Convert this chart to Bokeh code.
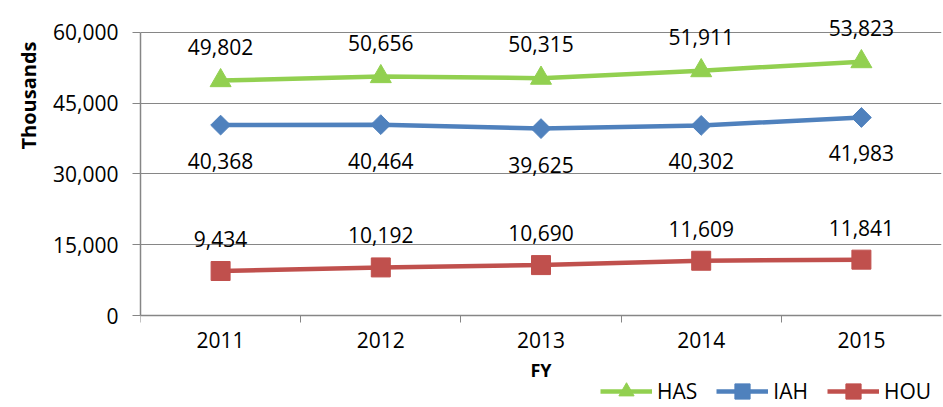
import math
from bokeh.plotting import figure
from bokeh.models import (Range1d, FixedTicker, ColumnDataSource, LabelSet, Legend,
                          LegendItem, Title, NumeralTickFormatter)
from bokeh.core.properties import value
from bokeh.embed import file_html
from bokeh.resources import INLINE

# ---- data ----
years = ["2011", "2012", "2013", "2014", "2015"]
has = [49802, 50656, 50315, 51911, 53823]
iah = [40368, 40464, 39625, 40302, 41983]
hou = [9434, 10192, 10690, 11609, 11841]
y_ticks = [0, 15000, 30000, 45000, 60000]

FONT = "Open Sans"
GREEN = "#92D050"
BLUE = "#4F81BD"
RED = "#C0504D"
GRAY = "#868686"

xs = list(range(len(years)))

# frame fills the canvas vertically; 0..60000 maps to y=315..32 px
p = figure(width=943, height=407, output_backend="svg", toolbar_location=None,
           x_range=Range1d(-0.5, 4.5), y_range=Range1d(-19505, 66784),
           min_border_left=140, min_border_right=2, min_border_top=0,
           min_border_bottom=0)
p.outline_line_color = None
p.background_fill_color = "white"
p.border_fill_color = "white"

# grid
p.xgrid.grid_line_color = None
p.ygrid.grid_line_color = GRAY
p.ygrid.grid_line_width = 1

# y axis
yax = p.yaxis[0]
yax.ticker = FixedTicker(ticks=y_ticks, minor_ticks=[])
yax.bounds = (0, 60000)
yax.formatter = NumeralTickFormatter(format="0,0")
yax.axis_line_color = GRAY
yax.axis_line_width = 1.5
yax.major_tick_line_color = GRAY
yax.major_tick_out = 8
yax.major_tick_in = 0
yax.minor_tick_line_color = None
yax.major_label_standoff = 14
yax.major_label_text_font = FONT
yax.major_label_text_font_size = "21px"
yax.major_label_text_color = "black"
yax.axis_label = None

# x axis, drawn at y = 0 inside the frame
xax = p.xaxis[0]
xax.fixed_location = 0
xax.ticker = FixedTicker(ticks=xs, minor_ticks=[-0.5, 0.5, 1.5, 2.5, 3.5])
xax.major_label_overrides = {i: y for i, y in zip(xs, years)}
xax.axis_line_color = GRAY
xax.axis_line_width = 1.5
xax.major_tick_line_color = None
xax.major_tick_out = 0
xax.major_tick_in = 0
xax.minor_tick_line_color = GRAY
xax.minor_tick_out = 7
xax.minor_tick_in = 0
xax.major_label_standoff = 9
xax.major_label_text_font = FONT
xax.major_label_text_font_size = "21px"
xax.major_label_text_color = "black"
xax.axis_label = "FY"
xax.axis_label_text_font = FONT
xax.axis_label_text_font_style = "bold"
xax.axis_label_text_font_size = "18px"
xax.axis_label_text_color = "black"
xax.axis_label_standoff = 7

# y title
p.add_layout(Title(text="Thousands", align="right", offset=41, standoff=18,
                   text_font=FONT, text_font_style="bold",
                   text_font_size="20px", text_color="black"), "left")

# series
series = [
    ("HAS", has, GREEN, "triangle", 21, 0.0, 34),
    ("IAH", iah, BLUE, "square", 14, math.pi / 4, -36),
    ("HOU", hou, RED, "square", 19, 0.0, 32),
]
items = {}
for name, vals, color, marker, size, angle, off in series:
    src = ColumnDataSource(dict(x=xs, y=vals, lab=[f"{v:,}" for v in vals]))
    ln = p.line("x", "y", source=src, line_color=color, line_width=4.5)
    sc = p.scatter("x", "y", source=src, marker=marker, size=size, angle=angle,
                   fill_color=color, line_color=color, line_width=1)
    items[name] = [ln, sc]
    p.add_layout(LabelSet(x="x", y="y", text="lab", source=src, y_offset=off,
                          text_align="center", text_baseline="middle",
                          text_font=value(FONT), text_font_size=value("21px"),
                          text_color="black"))

legend = Legend(items=[LegendItem(label=n, renderers=items[n]) for n in ["HAS", "IAH", "HOU"]],
                location=(460, -3), orientation="horizontal",
                label_text_font=FONT, label_text_font_size="21px",
                label_text_color="black", glyph_width=52, glyph_height=38,
                label_standoff=5, spacing=19, padding=0, margin=0,
                border_line_color=None, background_fill_alpha=0)
p.add_layout(legend)

open("out.html", "w").write(file_html(p, INLINE))
